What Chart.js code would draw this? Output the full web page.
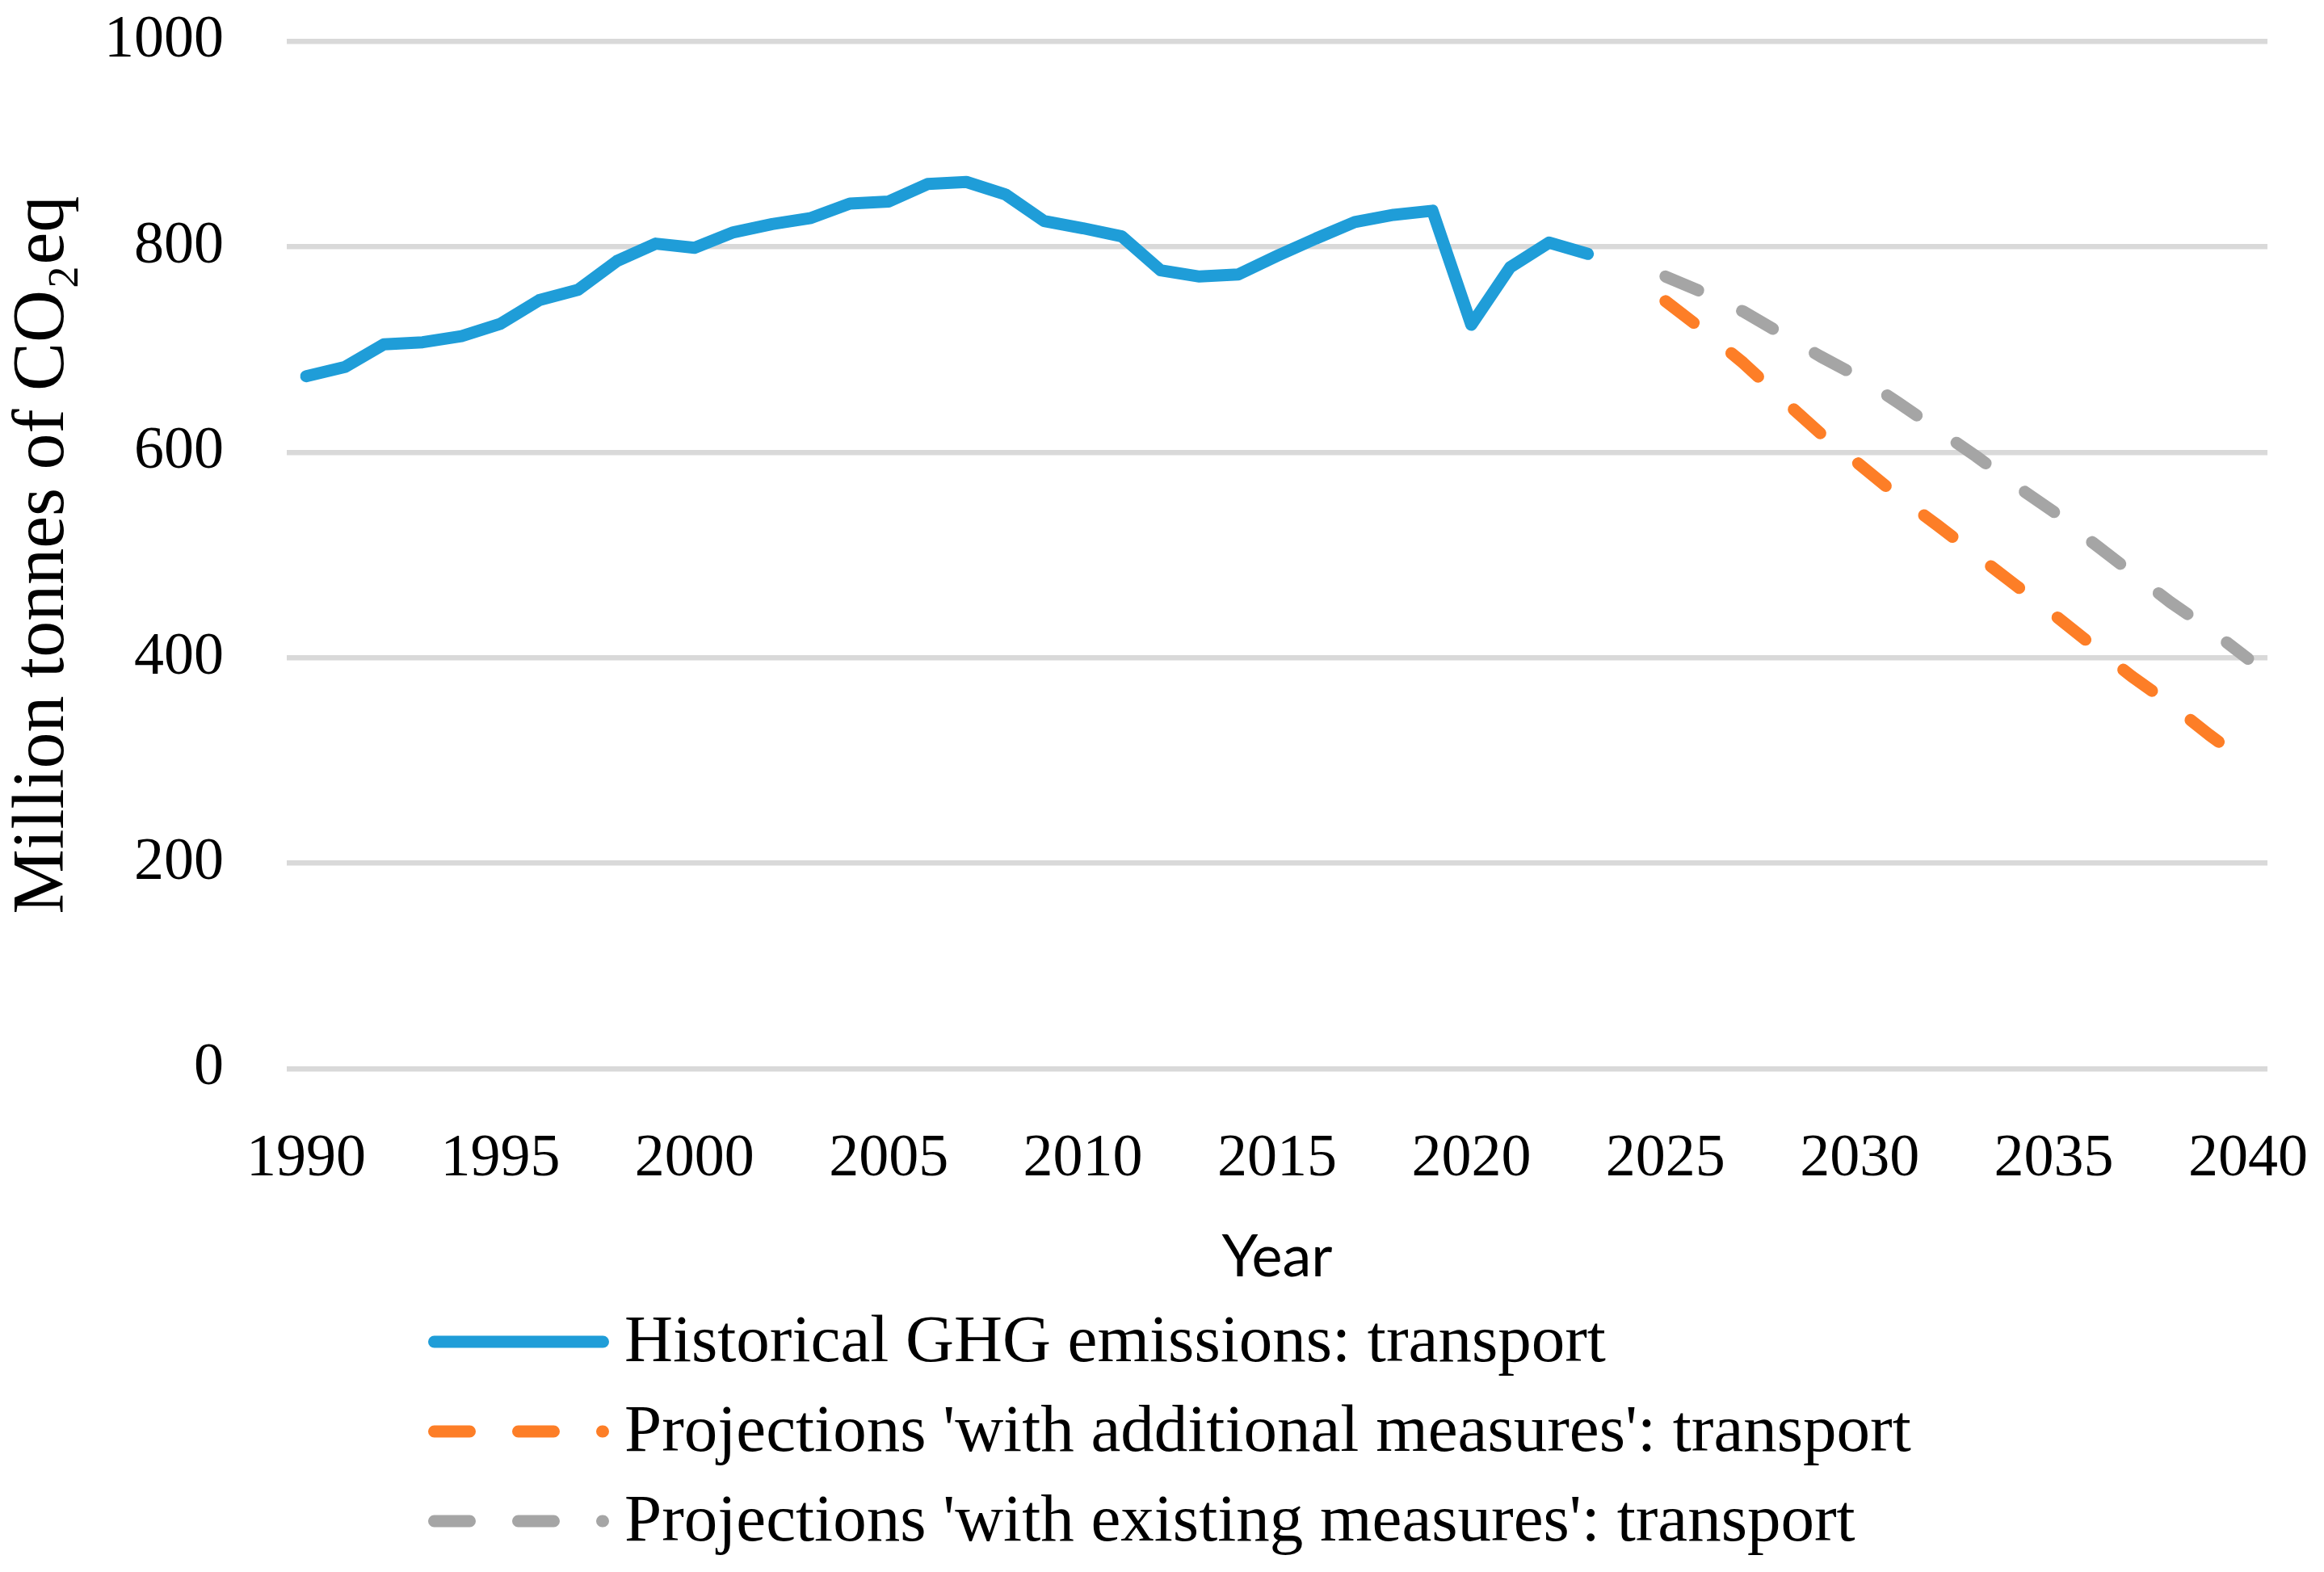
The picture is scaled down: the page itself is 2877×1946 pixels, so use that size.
<!DOCTYPE html>
<html>
<head>
<meta charset="utf-8">
<script src="https://cdn.jsdelivr.net/npm/chart.js@4.4.1/dist/chart.umd.min.js"></script>
<style>
  html, body { margin:0; padding:0; background:#fff; }
  #wrap { width:2877px; height:1946px; position:relative; }
</style>
</head>
<body>
<div id="wrap"><canvas id="chartTransport"></canvas></div>
<script>
// === TRANSPORT GHG EMISSIONS === //

const years = [1990,1991,1992,1993,1994,1995,1996,1997,1998,1999,
  2000,2001,2002,2003,2004,2005,2006,2007,2008,2009,
  2010,2011,2012,2013,2014,2015,2016,2017,2018,2019,
  2020,2021,2022,2023,2024,2025,2026,2027,2028,2029,
  2030,2031,2032,2033,2034,2035,2036,2037,2038,2039,2040];

// 1990-2023
const historical = [674,683,705,707,713,725,748,758,786,803,
  799,814,822,828,842,844,861,863,851,825,
  818,810,777,771,773,791,808,824,831,835,
  724,780,804,793];

// 2025-2040
const withAdditional = [747,718,687,652,618,588,557,529,500,471,442,412,382,355,325,297];
const withExisting   = [771,755,737,715,693,673,648,622,596,568,542,512,483,454,428,399];

const seriesNames = [
  "Historical GHG emissions: transport",
  "Projections 'with additional measures': transport",
  "Projections 'with existing measures': transport"
];

const yTicks = [0,200,400,600,800,1000];

// ---- line up series with the year axis ---- //
function onYears(values, firstYear){
  return years.map(y => {
    const i = y - firstYear;
    return (i >= 0 && i < values.length) ? values[i] : null;
  });
}

// ---- legend drawn as a left aligned column ---- //
const columnLegend = {
  id: "columnLegend",
  afterDraw(chart){
    const ctx = chart.ctx;
    const top = chart.scales.x.bottom + 61;
    ctx.save();
    ctx.font = '83px "Liberation Serif"';
    ctx.textBaseline = "middle";
    ctx.textAlign = "left";
    chart.data.datasets.forEach((ds, i) => {
      const y = top + i * 111;
      ctx.beginPath();
      ctx.strokeStyle = ds.borderColor;
      ctx.lineWidth = 15;
      ctx.lineCap = "round";
      ctx.setLineDash(ds.borderDash || []);
      ctx.moveTo(537.5, y);
      ctx.lineTo(746.5, y);
      ctx.stroke();
      ctx.setLineDash([]);
      ctx.fillStyle = "#000";
      ctx.fillText(ds.label, 773, y + 2);
    });
    ctx.restore();
  }
};

Chart.defaults.color = "#000";

new Chart(document.getElementById("chartTransport"), {
  type: "line",
  data: {
    labels: years,
    datasets: [
      { label: seriesNames[0], data: onYears(historical, 1990),
        borderColor: "#1F9DD8", borderWidth: 15 },
      { label: seriesNames[1], data: onYears(withAdditional, 2025),
        borderColor: "#FD7E27", borderWidth: 15, borderDash: [44, 60] },
      { label: seriesNames[2], data: onYears(withExisting, 2025),
        borderColor: "#A5A5A5", borderWidth: 15, borderDash: [44, 60] }
    ].map(ds => Object.assign(ds, {
      pointRadius: 0, tension: 0, fill: false, spanGaps: false,
      borderCapStyle: "round", borderJoinStyle: "round"
    }))
  },
  options: {
    responsive: true,
    maintainAspectRatio: false,
    animation: false,
    layout: { padding: { left: 0, right: 70, top: 51, bottom: 346 } },
    plugins: { legend: { display: false }, tooltip: { enabled: false } },
    scales: {
      x: {
        offset: true,
        grid: { display: false },
        border: { display: false },
        ticks: {
          autoSkip: false, maxRotation: 0, padding: 60,
          font: { family: "Liberation Serif", size: 74 },
          callback: function(val){
            const y = this.getLabelForValue(val);
            return (y % 5 === 0) ? String(y) : "";
          }
        },
        title: {
          display: true, text: "Year",
          font: { family: "Lato", size: 72 },
          padding: { top: 42, bottom: 0 }
        },
        afterFit(scale){
          scale.height = 277;
          scale.paddingLeft = 0;
          scale.paddingRight = 0;
        }
      },
      y: {
        min: yTicks[0], max: yTicks[yTicks.length - 1],
        grid: { color: "#D9D9D9", lineWidth: 6.5, drawTicks: false },
        border: { display: false },
        ticks: {
          stepSize: 200, padding: 78,
          font: { family: "Liberation Serif", size: 74 },
          callback: v => String(v)
        },
        afterBuildTicks(scale){ scale.ticks = yTicks.map(v => ({ value: v })); },
        title: {
          display: true, text: "Million tonnes of CO₂eq",
          font: { family: "Liberation Serif", size: 90 },
          padding: { top: 0, bottom: 0 }
        },
        afterFit(scale){
          scale.width = 355;
          scale.paddingTop = 0;
          scale.paddingBottom = 0;
        }
      }
    }
  },
  plugins: [columnLegend]
});
</script>
</body>
</html>
